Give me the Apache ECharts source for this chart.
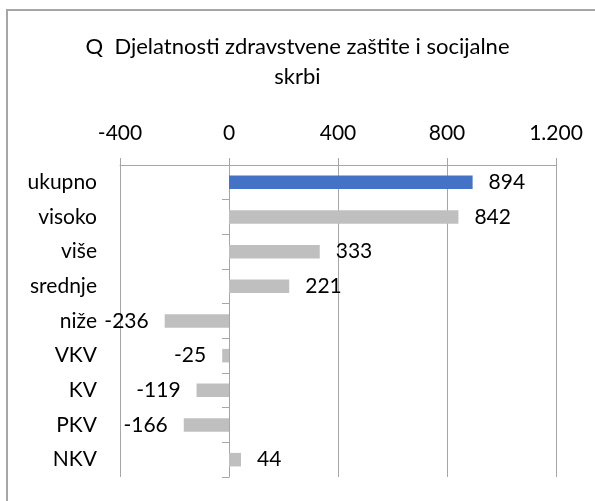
<!DOCTYPE html>
<html>
<head>
<meta charset="utf-8">
<script src="https://cdn.jsdelivr.net/npm/echarts@6/dist/echarts.min.js"></script>
<style>
  html, body { margin: 0; padding: 0; background: #fff; }
  #chart { width: 595px; height: 501px; }
</style>
</head>
<body>
<div id="chart"></div>
<script>
// Employment change by education level, sector Q
const titleText = 'Q  Djelatnosti zdravstvene zaštite i socijalne\nskrbi';
const categories = ['ukupno', 'visoko', 'više', 'srednje', 'niže', 'VKV', 'KV', 'PKV', 'NKV'];
const values = [894, 842, 333, 221, -236, -25, -119, -166, 44];
const tickMin = -400;
const tickMax = 1200;
const tickStep = 400;

const FONT = 'Lato';
const FS = 21;
const GRID = '#a6a6a6';
const BLUE = '#4472c4';
const GREY = '#bfbfbf';

const fmt = v => String(v).replace(/\B(?=(\d{3})+(?!\d))/g, '.');

const chart = echarts.init(document.getElementById('chart'), null, { renderer: 'canvas' });

chart.setOption({
  animation: false,
  backgroundColor: '#fff',
  textStyle: { fontFamily: FONT },
  title: {
    text: titleText,
    left: 'center',
    top: 32,
    padding: [0, 0, 0, 12],
    textStyle: { fontFamily: FONT, fontSize: 22, fontWeight: 'normal', color: '#000', lineHeight: 30 }
  },
  graphic: [{
    type: 'rect',
    shape: { x: 7, y: 10, width: 800, height: 800 },
    style: { fill: 'none', stroke: GRID, lineWidth: 2 },
    silent: true,
    z: 100
  }],
  grid: { left: 120, right: 39, top: 165, bottom: 24, containLabel: false },
  xAxis: {
    type: 'value',
    position: 'top',
    min: tickMin,
    max: tickMax,
    interval: tickStep,
    axisLine: { show: true, onZero: false, lineStyle: { color: GRID, width: 1 } },
    axisTick: { show: true, length: 7, lineStyle: { color: GRID } },
    axisLabel: { margin: 21, fontFamily: FONT, fontSize: FS, color: '#000', formatter: fmt },
    splitLine: { show: true, lineStyle: { color: GRID, width: 1 } }
  },
  yAxis: [{
    type: 'category',
    data: categories,
    inverse: true,
    axisLine: { show: false, onZero: false },
    axisTick: { show: false },
    splitLine: { show: false },
    axisLabel: { margin: 23, fontFamily: FONT, fontSize: FS, color: '#000' }
  }, {
    type: 'category',
    data: categories,
    inverse: true,
    position: 'left',
    axisLine: { show: true, onZero: true, lineStyle: { color: GRID, width: 1 } },
    axisTick: { show: true, length: 7, lineStyle: { color: GRID } },
    axisLabel: { show: false },
    splitLine: { show: false }
  }],
  series: [{
    type: 'bar',
    yAxisIndex: 0,
    barWidth: '39%',
    data: values.map((v, i) => ({
      value: v,
      itemStyle: { color: i === 0 ? BLUE : GREY },
      label: { position: v < 0 ? 'left' : 'right' }
    })),
    label: {
      show: true,
      distance: 16,
      fontFamily: FONT,
      fontSize: FS,
      color: '#000'
    }
  }]
});
</script>
</body>
</html>
